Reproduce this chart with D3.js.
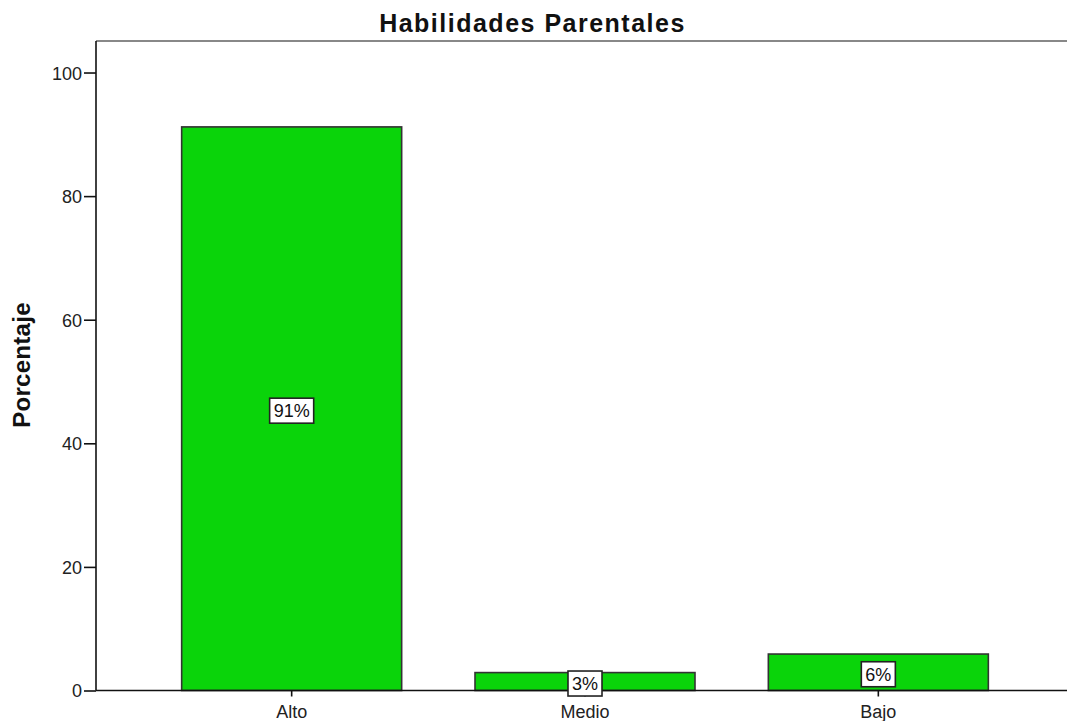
<!DOCTYPE html>
<html><head><meta charset="utf-8">
<script src="https://cdn.jsdelivr.net/npm/d3@7"></script>
<style>body{margin:0;background:#fff}svg{display:block}text{font-family:"Liberation Sans",Arial,sans-serif}</style>
</head><body>
<script>
const categories = ["Alto", "Medio", "Bajo"];
const values = [91.2, 2.9, 5.9];
const labels = ["91%", "3%", "6%"];
const yTicks = [0, 20, 40, 60, 80, 100];
const title = "Habilidades Parentales";
const yTitle = "Porcentaje";

const W = 1067, H = 721;
const svg = d3.select("body").append("svg").attr("width", W).attr("height", H);
const mLeft = 96, mRight = 1067, mTop = 41, mBottom = 690.5;
const y = d3.scaleLinear().domain([0, 105.1]).range([mBottom, mTop]);
const x = d3.scaleBand().domain(categories).range([145, 1025]).paddingInner(0.25).paddingOuter(0.125);

// title
svg.append("text").attr("x", 532.5).attr("y", 32).attr("text-anchor", "middle")
  .attr("font-size", 25).attr("font-weight", "bold").attr("letter-spacing", 1.5).attr("fill", "#111").text(title);
// y title
svg.append("text").attr("transform", `translate(30,${365}) rotate(-90)`).attr("text-anchor", "middle")
  .attr("font-size", 24).attr("font-weight", "bold").attr("letter-spacing", 0.3).attr("fill", "#111").text(yTitle);

// top frame line
svg.append("line").attr("x1", mLeft).attr("x2", mRight).attr("y1", mTop).attr("y2", mTop)
  .attr("stroke", "#888").attr("stroke-width", 2);

// bars
svg.selectAll("rect.bar").data(values).join("rect").attr("class", "bar")
  .attr("x", (d, i) => x(categories[i])).attr("width", x.bandwidth())
  .attr("y", d => y(d)).attr("height", d => y(0) - y(d))
  .attr("fill", "#0ad40a").attr("stroke", "#333").attr("stroke-width", 1.6);

// y axis
const yAxis = d3.axisLeft(y).tickValues(yTicks).tickSize(12).tickPadding(2).tickFormat(d3.format("d"));
const gy = svg.append("g").attr("transform", `translate(${mLeft},0)`).call(yAxis);
gy.select(".domain").remove();
gy.append("line").attr("x1", 0).attr("x2", 0).attr("y1", mTop).attr("y2", mBottom).attr("stroke", "#111").attr("stroke-width", 1.6);
gy.selectAll(".tick text").attr("font-size", 18).attr("fill", "#222").attr("dy", "0.36em").attr("font-family", "Liberation Sans, Arial, sans-serif");
gy.selectAll(".tick line").attr("stroke", "#111").attr("stroke-width", 1.6);

// x axis
const xAxis = d3.axisBottom(x).tickSize(6).tickPadding(9);
const gx = svg.append("g").attr("transform", `translate(0,${mBottom})`).call(xAxis);
gx.select(".domain").remove();
gx.append("line").attr("x1", mLeft).attr("x2", mRight).attr("y1", 0).attr("y2", 0).attr("stroke", "#111").attr("stroke-width", 1.6);
gx.selectAll(".tick text").attr("font-size", 18).attr("fill", "#222").attr("font-family", "Liberation Sans, Arial, sans-serif");
gx.selectAll(".tick line").attr("stroke", "#111").attr("stroke-width", 1.6);

// value labels
const lab = svg.selectAll("g.lab").data(values).join("g").attr("class", "lab")
  .attr("transform", (d, i) => `translate(${x(categories[i]) + x.bandwidth() / 2},${(y(d) + y(0)) / 2 + 2})`);
lab.each(function (d, i) {
  const g = d3.select(this);
  const t = g.append("text").attr("text-anchor", "middle").attr("dy", "0.36em").attr("font-size", 18)
    .attr("fill", "#111").text(labels[i]);
  const bb = t.node().getBBox();
  g.insert("rect", "text").attr("x", bb.x - 4).attr("y", bb.y - 3).attr("width", bb.width + 8).attr("height", bb.height + 5)
    .attr("fill", "#fff").attr("stroke", "#222").attr("stroke-width", 1.6);
});
</script>
</body></html>
